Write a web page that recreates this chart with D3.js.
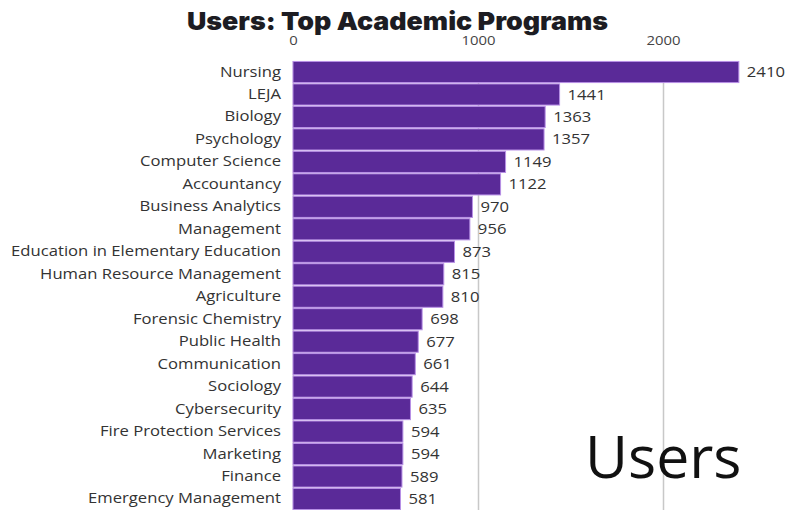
<!DOCTYPE html>
<html><head><meta charset="utf-8">
<script src="https://cdn.jsdelivr.net/npm/d3@7"></script>
<style>body{margin:0;background:#fff}svg{display:block}</style>
</head><body>
<svg id="c" width="788" height="510"></svg>
<script>
const programs = ["Nursing","LEJA","Biology","Psychology","Computer Science","Accountancy","Business Analytics","Management","Education in Elementary Education","Human Resource Management","Agriculture","Forensic Chemistry","Public Health","Communication","Sociology","Cybersecurity","Fire Protection Services","Marketing","Finance","Emergency Management"];
const users = [2410,1441,1363,1357,1149,1122,970,956,873,815,810,698,677,661,644,635,594,594,589,581];
const tickValues = [0,1000,2000];

(function(){
const svg = d3.select("#c");
const mLeft = 293, mTop = 61, mBottom = 510;
const SX = 1.19;
const x = d3.scaleLinear().domain([0,1000]).range([mLeft, mLeft+185]);
const y = d3.scaleBand().domain(programs).range([mTop, mBottom]).paddingInner(0.06).paddingOuter(0.02);

svg.append("text").attr("x",397.5).attr("y",29.5).attr("text-anchor","middle")
  .attr("textLength",421).attr("lengthAdjust","spacingAndGlyphs")
  .style("font-family","Inter").style("font-weight",900).style("font-size","25px").attr("fill","#1c1c22")
  .text("Users: Top Academic Programs");

const ax = svg.append("g").attr("transform",`translate(0,${mTop})`)
  .call(d3.axisTop(x).tickValues(tickValues).tickSize(-(mBottom-mTop)).tickFormat(d3.format("d")));
ax.select(".domain").remove();
ax.selectAll(".tick line").attr("stroke","#c8c8c8").attr("stroke-width",1.5);
ax.selectAll(".tick text").attr("fill","#444").attr("y",0).attr("dy",0)
  .attr("transform",`translate(0,-16) scale(${SX},1)`)
  .style("font-family","Open Sans").style("font-size","12.5px");

const data = programs.map((p,i)=>({p, v:users[i]}));
svg.append("g").selectAll("rect").data(data).join("rect")
  .attr("x", x(0)).attr("y", d=>y(d.p)).attr("width", d=>x(d.v)-x(0)).attr("height", y.bandwidth())
  .attr("fill","#5a2a98").attr("stroke","#b890e6").attr("stroke-width",1);

svg.append("g").selectAll("text").data(data).join("text")
  .attr("transform", d=>`translate(${x(d.v)+8},${y(d.p)+y.bandwidth()/2}) scale(${SX},1)`)
  .attr("dy","0.36em")
  .style("font-family","Open Sans").style("font-size","14px").attr("fill","#333")
  .text(d=>d.v);

const ay = svg.append("g").attr("transform",`translate(${mLeft},0)`)
  .call(d3.axisLeft(y).tickSize(0));
ay.select(".domain").remove();
ay.selectAll(".tick text").attr("x",-12/SX).attr("transform",`scale(${SX},1)`)
  .attr("fill","#333").style("font-family","Open Sans").style("font-size","14px");

svg.append("text").attr("x",585).attr("y",478)
  .style("font-family","Open Sans").style("font-size","59px").attr("fill","#111").text("Users");
})();
</script>
</body></html>
